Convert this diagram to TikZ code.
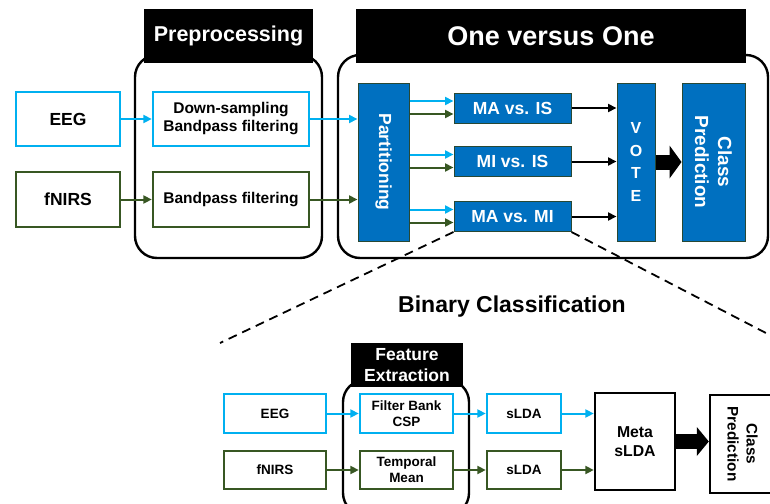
\documentclass[tikz,border=0pt]{standalone}
\usepackage{fontspec}
\setmainfont{Liberation Sans}
\usetikzlibrary{arrows.meta,positioning,calc}
\definecolor{eegblue}{RGB}{0,176,240}
\definecolor{nirsgreen}{RGB}{56,87,35}
\definecolor{ovoblue}{RGB}{0,112,192}
\definecolor{ovoedge}{RGB}{40,72,52}
\newcommand{\fsz}[1]{\fontsize{#1}{1.2\dimexpr#1pt\relax}\selectfont}

\begin{document}
\begin{tikzpicture}[x=1pt,y=-1pt,>={Triangle[length=8.5pt,width=8pt]}]
  \tikzstyle{inbox}=[draw,line width=2.4pt,fill=white,align=center,font=\bfseries,inner sep=0pt]
  \tikzstyle{eegbox}=[inbox,draw=eegblue]
  \tikzstyle{nirsbox}=[inbox,draw=nirsgreen]
  \tikzstyle{ovobox}=[draw=ovoedge,line width=1pt,fill=ovoblue,text=white,align=center,font=\bfseries,inner sep=0pt]
  \tikzstyle{headbox}=[fill=black,text=white,align=center,font=\bfseries,inner sep=0pt]
  \tikzstyle{groupbox}=[draw,line width=2.4pt,rounded corners=22pt,inner sep=0pt]
  \tikzstyle{eegline}=[->,eegblue,line width=2pt]
  \tikzstyle{nirsline}=[->,nirsgreen,line width=2pt]
  \tikzstyle{voteline}=[->,black,line width=2pt]
  \tikzstyle{bigarrow}=[line width=15pt,-{Triangle[length=12pt,width=33pt,line width=0pt]}]
  \tikzstyle{zoomline}=[line width=1.8pt,dash pattern=on 9pt off 6pt]
  \useasboundingbox (0,0) rectangle (770,503);

  % one versus one
  \node[groupbox,minimum width=187pt,minimum height=203pt] (prep) at (228.5,156.5) {};
  \node[headbox,minimum width=169pt,minimum height=54pt,font=\bfseries\fsz{21.5}] (prephead) at (228.5,36) {Preprocessing};
  \node[groupbox,minimum width=430pt,minimum height=203pt] (ovo) at (553,156.5) {};
  \node[headbox,minimum width=390pt,minimum height=54pt,font=\bfseries\fsz{27}] (ovohead) at (551,36) {One versus One};

  \node[eegbox,minimum width=104pt,minimum height=54pt,font=\bfseries\fsz{17.5}] (eegA) at (68,119) {EEG};
  \node[nirsbox,minimum width=104pt,minimum height=55pt,font=\bfseries\fsz{17.5}] (nirsA) at (68,199.5) {fNIRS};
  \node[eegbox,minimum width=156pt,minimum height=54pt,font=\bfseries\fontsize{15.5}{18}\selectfont] (down) at (231,119) {Down-sampling\\Bandpass filtering};
  \node[nirsbox,minimum width=156pt,minimum height=55pt,font=\bfseries\fsz{15.5}] (band) at (231,199.5) {Bandpass filtering};

  \node[ovobox,minimum width=51pt,minimum height=158pt] (part) at (383.5,162) {};
  \node[rotate=-90,text=white,font=\bfseries\fsz{17.5}] at (part) {Partitioning};
  \node[ovobox,minimum width=117pt,minimum height=30pt,font=\bfseries\fsz{17.5}] (pA) at (512.5,108) {MA vs. IS};
  \node[ovobox,minimum width=117pt,minimum height=30pt,font=\bfseries\fsz{17.5}] (pB) at (512.5,161.5) {MI vs. IS};
  \node[ovobox,minimum width=117pt,minimum height=30pt,font=\bfseries\fsz{17.5}] (pC) at (512.5,216.5) {MA vs. MI};
  \node[ovobox,minimum width=38pt,minimum height=158pt,font=\bfseries\fontsize{16}{22.5}\selectfont] (vote) at (636,162) {V\\O\\T\\E};
  \node[ovobox,minimum width=63pt,minimum height=158pt] (classA) at (713.5,162) {};
  \node[rotate=-90,text=white,align=center,font=\bfseries\fontsize{19}{23}\selectfont] at (classA) {Class\\Prediction};

  \draw[eegline] (eegA) -- (down);
  \draw[nirsline] (nirsA) -- (band);
  \draw[eegline] (down.east) -- (down.east -| part.west);
  \draw[nirsline] (band.east) -- (band.east -| part.west);
  \foreach \p in {pA,pB,pC} {
    \draw[eegline] ([yshift=7pt]\p.west -| part.east) -- ([yshift=7pt]\p.west);
    \draw[nirsline] ([yshift=-6pt]\p.west -| part.east) -- ([yshift=-6pt]\p.west);
    \draw[voteline] (\p.east) -- (\p.east -| vote.west);
  }
  \draw[bigarrow] (vote) -- (classA);

  % binary classification
  \coordinate (zoomL) at (220,343);
  \coordinate (zoomR) at (790,345.5);
  \draw[zoomline] (pC.south west) -- (zoomL);
  \draw[zoomline] (pC.south east) -- (zoomR);
  \node[font=\bfseries\fsz{23}] (bintitle) at (512,307) {Binary Classification};

  \node[groupbox,minimum width=126pt,minimum height=135pt] (feat) at (406,447.5) {};
  \node[headbox,minimum width=112pt,minimum height=44pt,font=\bfseries\fontsize{17.5}{21}\selectfont] (feathead) at (407,365) {Feature\\Extraction};

  \node[eegbox,minimum width=102pt,minimum height=39pt,font=\bfseries\fsz{13.5}] (eegB) at (275,413.5) {EEG};
  \node[nirsbox,minimum width=102pt,minimum height=38pt,font=\bfseries\fsz{13.5}] (nirsB) at (275,470) {fNIRS};
  \node[eegbox,minimum width=93pt,minimum height=39pt,font=\bfseries\fontsize{13.5}{16}\selectfont] (fbcsp) at (406.5,413.5) {Filter Bank\\CSP};
  \node[nirsbox,minimum width=93pt,minimum height=38pt,font=\bfseries\fontsize{13.5}{16}\selectfont] (tmean) at (406.5,470) {Temporal\\Mean};
  \node[eegbox,minimum width=74pt,minimum height=39pt,font=\bfseries\fsz{13.5}] (sldaA) at (524,413.5) {sLDA};
  \node[nirsbox,minimum width=74pt,minimum height=38pt,font=\bfseries\fsz{13.5}] (sldaB) at (524,470) {sLDA};
  \node[inbox,draw=black,minimum width=80pt,minimum height=97pt,font=\bfseries\fontsize{15.8}{19.5}\selectfont] (meta) at (635,441.5) {Meta\\sLDA};
  \node[inbox,draw=black,minimum width=65pt,minimum height=98pt] (classB) at (742.5,444) {};
  \node[rotate=-90,align=center,font=\bfseries\fontsize{15.3}{19}\selectfont] at (classB) {Class\\Prediction};

  \draw[eegline] (eegB) -- (fbcsp);
  \draw[eegline] (fbcsp) -- (sldaA);
  \draw[eegline] (sldaA.east) -- (sldaA.east -| meta.west);
  \draw[nirsline] (nirsB) -- (tmean);
  \draw[nirsline] (tmean) -- (sldaB);
  \draw[nirsline] (sldaB.east) -- (sldaB.east -| meta.west);
  \draw[bigarrow,-{Triangle[length=12pt,width=29pt,line width=0pt]}] (meta.east) -- (meta.east -| classB.west);
\end{tikzpicture}
\end{document}
